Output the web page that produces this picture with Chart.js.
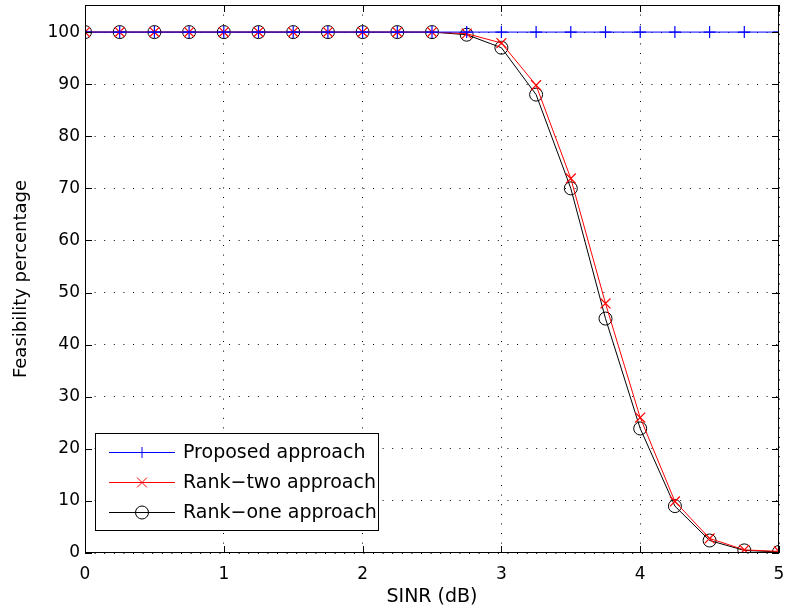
<!DOCTYPE html>
<html><head><meta charset="utf-8">
<script src="https://cdn.jsdelivr.net/npm/chart.js@4"></script>
<style>html,body{margin:0;padding:0;background:#fff}#wrap{width:786px;height:612px}</style>
</head><body><div id="wrap"><canvas id="c" width="786" height="612"></canvas></div>
<script>
const sinr = [0,0.25,0.5,0.75,1,1.25,1.5,1.75,2,2.25,2.5,2.75,3,3.25,3.5,3.75,4,4.25,4.5,4.75,5];
const proposed = [100,100,100,100,100,100,100,100,100,100,100,100,100,100,100,100,100,100,100,100,100];
const rankTwo = [100,100,100,100,100,100,100,100,100,100,100,99.7,97.9,89.8,71.9,47.9,26,9.9,2.8,0.6,0.3];
const rankOne = [100,100,100,100,100,100,100,100,100,100,100,99.5,97,88,70,45,23.9,9,2.4,0.5,0.2];
const seriesNames = ['Proposed approach','Rank\u2212two approach','Rank\u2212one approach'];
const xTicks = [0,1,2,3,4,5];
const yTicks = [0,10,20,30,40,50,60,70,80,90,100];

const FONT = "'DejaVu Sans', sans-serif";
const mk = (arr) => arr.map((v,i)=>({x:sinr[i],y:v}));

const frame = {
  id:'frame',
  afterDatasetsDraw(chart){
    const {ctx, chartArea:a, scales:{x,y}} = chart;
    ctx.save();
    ctx.strokeStyle='#000'; ctx.lineWidth=1;
    ctx.strokeRect(a.left+0.5, a.top+0.5, a.right-a.left-1, a.bottom-a.top-1);
    const L=7;
    ctx.beginPath();
    xTicks.forEach(t=>{const px=Math.round(x.getPixelForValue(t))+0.5;
      ctx.moveTo(px,a.bottom); ctx.lineTo(px,a.bottom-L);
      ctx.moveTo(px,a.top); ctx.lineTo(px,a.top+L);});
    yTicks.forEach(t=>{const py=Math.round(y.getPixelForValue(t))+0.5;
      ctx.moveTo(a.left,py); ctx.lineTo(a.left+L,py);
      ctx.moveTo(a.right,py); ctx.lineTo(a.right-L,py);});
    ctx.stroke();
    ctx.restore();
  },
  afterDraw(chart){
    const {ctx, chartArea:a} = chart;
    const bx=a.left+10, by=a.bottom-120, bw=283, bh=97;
    ctx.save();
    ctx.fillStyle='#fff'; ctx.fillRect(bx,by,bw,bh);
    ctx.strokeStyle='#000'; ctx.lineWidth=1; ctx.strokeRect(bx+0.5,by+0.5,bw,bh);
    const colors=['#0000ff','#ff0000','#000000'];
    const styles=['cross','crossRot','circle'];
    const radii=[5.5,7,6.5];
    ctx.textBaseline='middle';
    for(let i=0;i<3;i++){
      const cy=by+19+i*30;
      ctx.strokeStyle=colors[i]; ctx.lineWidth=1;
      ctx.beginPath(); ctx.moveTo(bx+14,cy+0.5); ctx.lineTo(bx+80,cy+0.5); ctx.stroke();
      ctx.fillStyle='rgba(0,0,0,0)';
      Chart.helpers.drawPoint(ctx,{pointStyle:styles[i],radius:radii[i],borderWidth:1.2},bx+47,cy+0.5);
      ctx.fillStyle='#000';
      ctx.font='19px '+FONT;
      ctx.fillText(seriesNames[i],bx+88,cy+1);
    }
    ctx.restore();
  }
};

new Chart(document.getElementById('c'),{
  type:'line',
  data:{datasets:[
    {label:seriesNames[0],data:mk(proposed),borderColor:'#0000ff',backgroundColor:'transparent',borderWidth:1,pointStyle:'cross',pointRadius:6,pointBorderWidth:1.2,pointBorderColor:'#0000ff'},
    {label:seriesNames[1],data:mk(rankTwo),borderColor:'#ff0000',backgroundColor:'transparent',borderWidth:1,pointStyle:'crossRot',pointRadius:7,pointBorderWidth:1.2,pointBorderColor:'#ff0000'},
    {label:seriesNames[2],data:mk(rankOne),borderColor:'#000000',backgroundColor:'transparent',borderWidth:1,pointStyle:'circle',pointRadius:6.5,pointBorderWidth:1,pointBorderColor:'#000000',pointBackgroundColor:'rgba(0,0,0,0)'}
  ]},
  options:{
    responsive:false, animation:false, devicePixelRatio:1,
    layout:{autoPadding:false,padding:{top:5,right:7,left:0,bottom:0}},
    plugins:{legend:{display:false},tooltip:{enabled:false}},
    elements:{line:{tension:0}},
    scales:{
      x:{type:'linear',min:0,max:5,
        afterBuildTicks(s){s.ticks=xTicks.map(v=>({value:v}));},
        afterFit(s){s.height=59; s.paddingLeft=0; s.paddingRight=0;},
        ticks:{font:{family:FONT,size:17},color:'#000',padding:11,maxRotation:0},
        grid:{color:'#000',lineWidth:1,drawTicks:false,tickLength:0},
        border:{display:false,dash:[1,8.6]},
        title:{display:true,text:'SINR (dB)',font:{family:FONT,size:19},color:'#000',padding:{top:0,bottom:3.6}}
      },
      y:{type:'linear',min:0,max:105.2,
        afterBuildTicks(s){s.ticks=yTicks.map(v=>({value:v}));},
        afterFit(s){s.width=85; s.paddingTop=0; s.paddingBottom=0;},
        ticks:{font:{family:FONT,size:17},color:'#000',padding:5},
        grid:{color:'#000',lineWidth:1,drawTicks:false,tickLength:0},
        border:{display:false,dash:[1,8.6]},
        title:{display:true,text:'Feasibility percentage',font:{family:FONT,size:18},color:'#000',padding:{top:11,bottom:0}}
      }
    }
  },
  plugins:[frame]
});
</script></body></html>
